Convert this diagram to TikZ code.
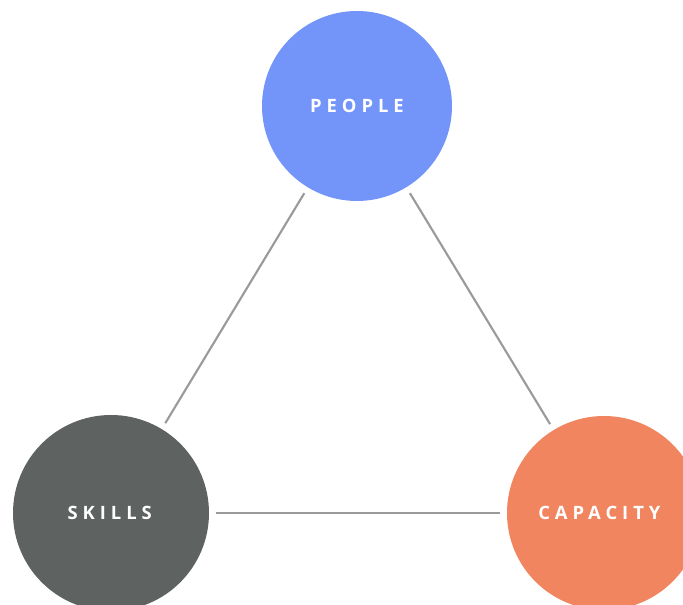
\documentclass[tikz,border=0pt]{standalone}
\usepackage{fontspec}
\newfontfamily\labelfont[LetterSpace=27]{Open Sans Bold}
\definecolor{peopleblue}{HTML}{7395FA}
\definecolor{skillgray}{HTML}{5E6261}
\definecolor{caporange}{HTML}{F08560}
\definecolor{linkgray}{HTML}{9A9A9A}
\begin{document}
\begin{tikzpicture}[x=0.75pt,y=-0.75pt,
  bubble/.style={circle,inner sep=0pt,text=white,
    font=\labelfont\fontsize{13.8}{15}\selectfont},
  link/.style={draw=linkgray,line width=1.6pt,shorten <=5pt,shorten >=5pt}]
\useasboundingbox (0,0) rectangle (683,605);
\node[bubble,fill=peopleblue,minimum size=190*0.75pt] (people) at (357,106) {PEOPLE};
\node[bubble,fill=skillgray,minimum size=196*0.75pt] (skills) at (111,513) {SKILLS\kern2pt\relax};
\node[bubble,fill=caporange,minimum size=194*0.75pt] (capacity) at (604,513) {CAPACITY\kern7pt\relax};
\draw[link] (people) -- (skills);
\draw[link] (people) -- (capacity);
\draw[link] (skills) -- (capacity);
\end{tikzpicture}
\end{document}
